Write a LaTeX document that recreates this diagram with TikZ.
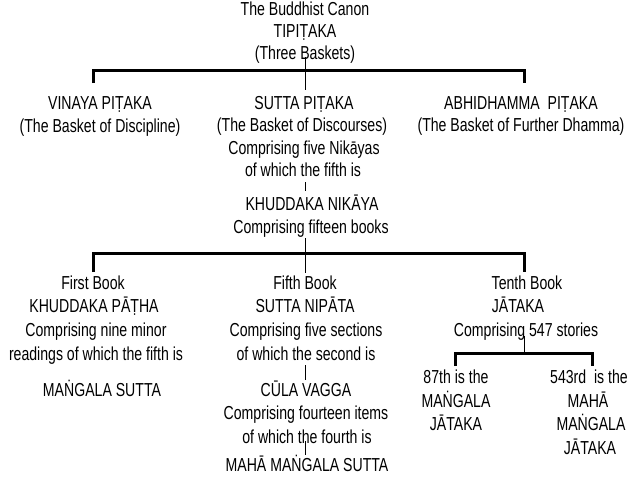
\documentclass[tikz,border=0pt]{standalone}
\usepackage{fontspec}
\setmainfont{Liberation Sans}[FakeStretch=0.75]
\begin{document}
\begin{tikzpicture}[x=1pt,y=-1pt,
  t/.style={anchor=base,inner sep=0pt,font=\fontsize{18.8}{21}\selectfont},
  brk/.style={line width=3pt,line join=miter},
  conn/.style={line width=0.9pt}]
\useasboundingbox (0,0) rectangle (640,480);
% root
\node[t] (r1) at (305,15) {The Buddhist Canon};
\node[t] (r2) at (305,37) {TIPIṬAKA};
\node[t] (r3) at (305,59) {(Three Baskets)};
% baskets
\node[t] (v1) at (100,109) {VINAYA PIṬAKA};
\node[t] (v2) at (100,132) {(The Basket of Discipline)};
\node[t] (s1) at (304,109) {SUTTA PIṬAKA};
\node[t] (s2) at (302,131) {(The Basket of Discourses)};
\node[t] (s3) at (304,154) {Comprising five Nikāyas};
\node[t] (s4) at (303,176) {of which the fifth is};
\node[t] (a1) at (521,109) {ABHIDHAMMA\ \ PIṬAKA};
\node[t] (a2) at (521,131) {(The Basket of Further Dhamma)};
\node[t] (k1) at (312,210) {KHUDDAKA NIKĀYA};
\node[t] (k2) at (311,233) {Comprising fifteen books};
% books
\node[t] (f1) at (93,289) {First Book};
\node[t] (f2) at (94,312) {KHUDDAKA PĀṬHA};
\node[t] (f3) at (96,336) {Comprising nine minor};
\node[t] (f4) at (96,360) {readings of which the fifth is};
\node[t] (f5) at (102,396) {MAṄGALA SUTTA};
\node[t] (n1) at (305,289) {Fifth Book};
\node[t] (n2) at (305,312) {SUTTA NIPĀTA};
\node[t] (n3) at (306,336) {Comprising five sections};
\node[t] (n4) at (306,360) {of which the second is};
\node[t] (n5) at (306,396) {CŪLA VAGGA};
\node[t] (n6) at (306,419) {Comprising fourteen items};
\node[t] (n7) at (307,443) {of which the fourth is};
\node[t] (n8) at (307,471) {MAHĀ MAṄGALA SUTTA};
\node[t] (j1) at (527,289) {Tenth Book};
\node[t] (j2) at (518,312) {JĀTAKA};
\node[t] (j3) at (526,336) {Comprising 547 stories};
\node[t] (m1) at (456,383) {87th is the};
\node[t] (m2) at (456,407) {MAṄGALA};
\node[t] (m3) at (456,430) {JĀTAKA};
\node[t] (g1) at (589,383) {543rd\ \ is the};
\node[t] (g2) at (588,407) {MAHĀ};
\node[t] (g3) at (591,430) {MAṄGALA};
\node[t] (g4) at (590,454) {JĀTAKA};
% line coordinates
\coordinate (c1a) at (305,57);   \coordinate (c1b) at (305,90);
\coordinate (b1l) at (93.5,83);  \coordinate (b1lt) at (93.5,70);
\coordinate (b1rt) at (524.5,70); \coordinate (b1r) at (524.5,83);
\coordinate (c2a) at (305,182);  \coordinate (c2b) at (305,191);
\coordinate (c3a) at (305,238);  \coordinate (c3b) at (305,273);
\coordinate (b2l) at (93.5,272); \coordinate (b2lt) at (93.5,253);
\coordinate (b2rt) at (524.5,253); \coordinate (b2r) at (524.5,272);
\coordinate (c4a) at (305,365);  \coordinate (c4b) at (305,380);
\coordinate (c5a) at (305,441);  \coordinate (c5b) at (305,455);
\coordinate (c6a) at (524,336);  \coordinate (c6b) at (524,352);
\coordinate (b3l) at (455.5,366); \coordinate (b3lt) at (455.5,353);
\coordinate (b3rt) at (592.5,353); \coordinate (b3r) at (592.5,366);
% connectors
\draw[conn] (c1a) -- (c1b);
\draw[brk] (b1l) -- (b1lt) -- (b1rt) -- (b1r);
\draw[conn] (c2a) -- (c2b);
\draw[conn] (c3a) -- (c3b);
\draw[brk] (b2l) -- (b2lt) -- (b2rt) -- (b2r);
\draw[conn] (c4a) -- (c4b);
\draw[conn] (c5a) -- (c5b);
\draw[conn] (c6a) -- (c6b);
\draw[brk] (b3l) -- (b3lt) -- (b3rt) -- (b3r);
\end{tikzpicture}
\end{document}
